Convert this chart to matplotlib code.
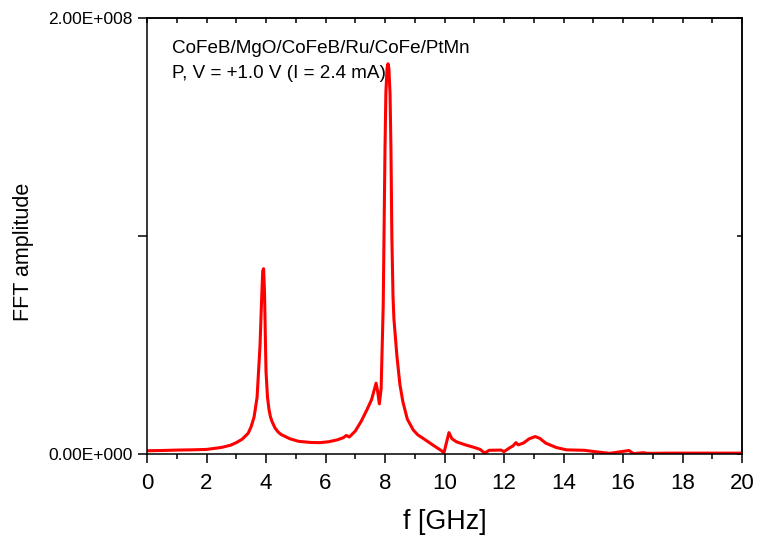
import matplotlib
matplotlib.use("Agg")
import matplotlib.pyplot as plt
from matplotlib.ticker import MultipleLocator, FixedLocator, NullFormatter

# frequency (GHz) and FFT amplitude (in units of 1e6)
freq = [0, 0.5, 1, 1.5, 2, 2.5, 2.8, 3.0, 3.2, 3.4, 3.5, 3.6, 3.7, 3.8, 3.85,
        3.89, 3.92, 3.95, 4.0, 4.05, 4.1, 4.15, 4.2, 4.3, 4.4, 4.5, 4.8, 5.1,
        5.5, 5.8, 6.1, 6.4, 6.6, 6.7, 6.8, 7.0, 7.2, 7.4, 7.55, 7.7, 7.75, 7.81,
        7.87, 7.94, 8.0, 8.03, 8.07, 8.1, 8.13, 8.17, 8.2, 8.23, 8.27, 8.3,
        8.4, 8.5, 8.6, 8.75, 8.95, 9.1, 9.3, 9.6, 9.9, 9.98, 10.15, 10.25, 10.4,
        10.7, 11.0, 11.2, 11.35, 11.5, 11.9, 12.0, 12.2, 12.3, 12.4, 12.48,
        12.65, 12.85, 13.05, 13.2, 13.4, 13.75, 14.1, 14.7, 15.1, 15.55, 15.9,
        16.2, 16.35, 16.7, 16.8, 17.5, 18, 19, 20]
amp_e6 = [1.5, 1.6, 1.8, 1.9, 2.1, 3.0, 4.0, 5.2, 6.8, 9.5, 12.5, 17, 26, 50, 70,
          84, 85, 74, 38, 26, 20.5, 17, 15, 12, 10.2, 9, 7, 5.8,
          5.3, 5.2, 5.6, 6.5, 7.5, 8.5, 7.8, 10.5, 15, 20.5, 25, 32.5, 29, 23,
          30, 68, 140, 166, 177, 179, 177, 165, 140, 100, 72, 62,
          45, 32, 24, 16, 11, 8.8, 7, 4.2, 1.5, 0.5, 9.8, 7, 5.6,
          4.2, 3.0, 2.1, 0.4, 1.7, 1.8, 1.1, 2.9, 3.7, 5.2, 4.2,
          5, 7, 8, 7.2, 5, 3, 1.9, 1.7, 1.0, 0.3, 1.0,
          1.6, 0.2, 0.6, 0.3, 0.4, 0.4, 0.4, 0.4]

y_ticks = [0, 1e8, 2e8]
y_tick_labels = ["0.00E+000", "", "2.00E+008"]
x_ticks = list(range(0, 21, 2))

annotation_lines = ["CoFeB/MgO/CoFeB/Ru/CoFe/PtMn", "P, V = +1.0 V (I = 2.4 mA)"]

plt.rcParams["font.family"] = ["Liberation Sans", "DejaVu Sans"]

fig = plt.figure(figsize=(7.58, 5.37), dpi=100)
ax = fig.add_axes([147 / 758, 1 - 454 / 537, 595 / 758, 436 / 537])

amp = [a * 1e6 for a in amp_e6]
ax.plot(freq, amp, color="#FF0000", linewidth=2.2, solid_joinstyle="round")

ax.set_xlim(0, 20)
ax.set_ylim(0, 2e8)

for spine in ax.spines.values():
    spine.set_linewidth(1.1)

ax.xaxis.set_major_locator(FixedLocator(x_ticks))
ax.xaxis.set_minor_locator(MultipleLocator(1))
ax.set_yticks(y_ticks)
ax.set_yticklabels(y_tick_labels)

ax.tick_params(axis="x", which="major", direction="out", length=6.5, width=1.1,
               labelsize=16, pad=7, top=False)
ax.tick_params(axis="x", which="minor", direction="out", length=3.6, width=1.1, top=False)
ax.tick_params(axis="y", which="major", direction="out", length=6.5, width=1.1,
               labelsize=12.5, pad=4, right=False)

# inward mirror ticks on top and right
top = ax.secondary_xaxis("top")
top.xaxis.set_major_locator(MultipleLocator(1))
top.xaxis.set_major_formatter(NullFormatter())
top.tick_params(direction="in", length=3.6, width=1.1)
top.spines["top"].set_linewidth(1.1)

right = ax.secondary_yaxis("right")
right.set_yticks(y_ticks)
right.yaxis.set_major_formatter(NullFormatter())
right.tick_params(direction="in", length=3.6, width=1.1)
right.spines["right"].set_linewidth(1.1)

ax.set_xlabel("f [GHz]", fontsize=19.4, labelpad=11)
ax.set_ylabel("FFT amplitude", fontsize=15.5)
ax.yaxis.set_label_coords(-0.19, 0.463)

ax.text(0.042, 0.93, annotation_lines[0], transform=ax.transAxes,
        fontsize=13.6, va="center", ha="left")
ax.text(0.042, 0.872, annotation_lines[1], transform=ax.transAxes,
        fontsize=13.6, va="center", ha="left")

fig.savefig("out.png", dpi=100)
